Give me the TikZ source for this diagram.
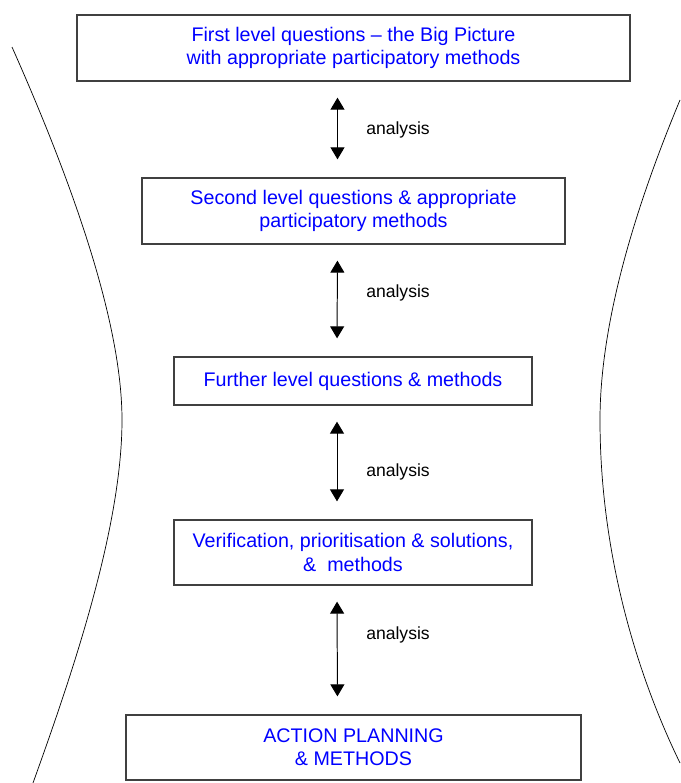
\documentclass[tikz,border=0pt]{standalone}
\usepackage{fontspec}
\setmainfont{Liberation Sans}
\usepackage{tikz}
\usetikzlibrary{arrows.meta,calc}

\begin{document}
\begin{tikzpicture}[x=0.025cm,y=-0.025cm]
        % Define the styles for the boxes, arrows and labels
        \tikzstyle{level box}=[draw=black!75, line width=0.9pt, text=blue, align=center, inner sep=0pt, font=\fontsize{14}{16.5}\selectfont];
        \tikzstyle{analysis arrow}=[{Triangle[width=0.35cm,length=0.3cm]}-{Triangle[width=0.35cm,length=0.3cm]}, draw=black, line width=0.7pt, shorten <=0.4cm, shorten >=0.45cm];
        \tikzstyle{analysis label}=[font=\fontsize{12.5}{15}\selectfont];

        % Fix the size of the picture
        \useasboundingbox (0,0) rectangle (680,783);

        % Draw the two curved sides
        \draw[line width=0.5pt] (12,47) .. controls (80,200) and (122,330) .. (122,420)
              .. controls (122,530) and (70,680) .. (33,783);
        \draw[line width=0.5pt] (680,100) .. controls (630,220) and (600,330) .. (600,420)
              .. controls (600,540) and (630,660) .. (680,763);

        % Draw the level boxes
        \node[level box, minimum width=13.825cm, minimum height=1.65cm] (first) at (353.5,48)
              {First level questions – the Big Picture\\with appropriate participatory methods};
        \node[level box, minimum width=10.575cm, minimum height=1.65cm] (second) at (353.5,211)
              {Second level questions \& appropriate\\participatory methods};
        \node[level box, minimum width=8.95cm, minimum height=1.2cm] (further) at (353,381)
              {Further level questions \& methods};
        \node[level box, minimum width=8.95cm, minimum height=1.625cm] (verify) at (353,552.5)
              {Verification, prioritisation \& solutions,\\\& \ methods};
        \node[level box, minimum width=11.375cm, minimum height=1.625cm] (action) at (353.5,747.5)
              {ACTION PLANNING\\\& METHODS};

        % Draw the analysis arrows between the boxes
        \draw[analysis arrow] ([xshift=-0.4cm]first.south) -- ([xshift=-0.4cm]second.north);
        \draw[analysis arrow] ([xshift=-0.4cm]second.south) -- ([xshift=-0.4cm]further.north);
        \draw[analysis arrow] ([xshift=-0.4cm]further.south) -- ([xshift=-0.4cm]verify.north);
        \draw[analysis arrow] ([xshift=-0.4cm]verify.south) -- ([xshift=-0.4cm]action.north);

        % Labels beside the arrows
        \node[analysis label] (analysis1) at (398,130) {analysis};
        \node[analysis label] (analysis2) at (398,293) {analysis};
        \node[analysis label] (analysis3) at (398,472) {analysis};
        \node[analysis label] (analysis4) at (398,635) {analysis};

    \end{tikzpicture}
\end{document}
